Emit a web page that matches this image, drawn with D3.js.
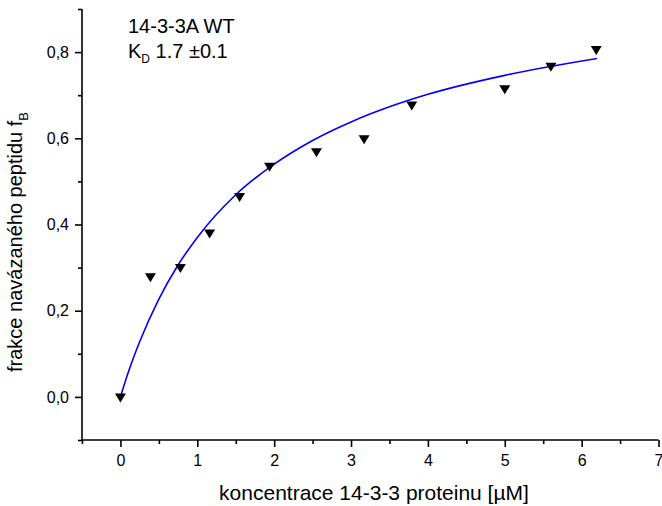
<!DOCTYPE html>
<html>
<head>
<meta charset="utf-8">
<script src="https://cdn.jsdelivr.net/npm/d3@7"></script>
<style>
  body { margin: 0; background: #fff; }
  text { font-family: "Liberation Sans", Arial, sans-serif; fill: #000; }
</style>
</head>
<body>
<div id="chart"></div>
<script>
// naměřené body (koncentrace 14-3-3 v uM, frakce navázaného peptidu)
const concX = [0, 0.39, 0.78, 1.16, 1.55, 1.94, 2.55, 3.17, 3.79, 5.0, 5.6, 6.19];
const fracB = [0, 0.279, 0.30, 0.38, 0.465, 0.535, 0.569, 0.599, 0.677, 0.715, 0.767, 0.806];

// fitovana krivka
const fitX = [0, 0.1, 0.25, 0.5, 0.75, 1, 1.5, 2, 2.5, 3, 3.5, 4, 5, 6.2];
const fitY = [0, 0.056, 0.128, 0.227, 0.306, 0.37, 0.469, 0.54, 0.595, 0.638, 0.673, 0.702, 0.746, 0.785];

const xMajor = [0, 1, 2, 3, 4, 5, 6, 7];
const xMinor = [-0.5, 0.5, 1.5, 2.5, 3.5, 4.5, 5.5, 6.5];
const yMajor = [0, 0.2, 0.4, 0.6, 0.8];
const yMinor = [-0.1, 0.1, 0.3, 0.5, 0.7, 0.9];

const W = 662, H = 506;
const svg = d3.select('#chart').append('svg')
    .attr('width', W)
    .attr('height', H);

// scale
const x = d3.scaleLinear().domain([-0.5, 7]).range([82, 658.5]);
const y = d3.scaleLinear().domain([-0.1, 0.9]).range([440, 9]);

const fmt = d => d3.format('.1f')(d).replace('.', ',');

// osa x - velke a male znacky
const gx = svg.append('g')
    .attr('transform', `translate(0,${y(-0.1)})`)
    .call(d3.axisBottom(x).tickValues(xMajor).tickSize(7).tickPadding(8).tickFormat(d3.format('d')));
svg.append('g')
    .attr('transform', `translate(0,${y(-0.1)})`)
    .call(d3.axisBottom(x).tickValues(xMinor).tickSize(4).tickFormat(''))
    .select('.domain').remove();

// osa y
const gy = svg.append('g')
    .attr('transform', `translate(${x(-0.5)},0)`)
    .call(d3.axisLeft(y).tickValues(yMajor).tickSize(7).tickPadding(6).tickFormat(fmt));
svg.append('g')
    .attr('transform', `translate(${x(-0.5)},0)`)
    .call(d3.axisLeft(y).tickValues(yMinor).tickSize(4).tickFormat(''))
    .select('.domain').remove();

svg.selectAll('.domain').attr('stroke', '#000').attr('stroke-width', 1.6);
svg.selectAll('.tick line').attr('stroke', '#000').attr('stroke-width', 1.6);
svg.selectAll('.tick text').style('font-size', '16px').attr('fill', '#000');
// bez koncovych zobacku
gx.select('.domain').attr('d', `M${x(-0.5)},0H${x(7)}`);
gy.select('.domain').attr('d', `M0,${y(-0.1)}V${y(0.9)}`);

// popisky os
svg.append('text')
    .attr('x', 374)
    .attr('y', 500)
    .attr('text-anchor', 'middle')
    .style('font-size', '21px')
    .text('koncentrace 14-3-3 proteinu [µM]');

const yl = svg.append('text')
    .attr('transform', 'translate(22,242) rotate(-90)')
    .attr('text-anchor', 'middle')
    .style('font-size', '20px');
yl.append('tspan').text('frakce navázaného peptidu f');
yl.append('tspan').attr('dy', 6).style('font-size', '13px').text('B');

// fitovana krivka
const line = d3.line()
    .x((d, i) => x(fitX[i]))
    .y(d => y(d))
    .curve(d3.curveMonotoneX);
svg.append('path')
    .datum(fitY)
    .attr('d', line)
    .attr('fill', 'none')
    .attr('stroke', '#0000ff')
    .attr('stroke-width', 1.6);

// body - trojuhelniky spickou dolu
svg.selectAll('.pt')
    .data(concX)
    .join('path')
    .attr('class', 'pt')
    .attr('transform', (d, i) => `translate(${x(d)},${y(fracB[i])})`)
    .attr('d', 'M-5.5,-3.5L5.5,-3.5L0,5.5Z')
    .attr('fill', '#000');

// anotace
svg.append('text')
    .attr('x', 128)
    .attr('y', 33)
    .style('font-size', '20px')
    .text('14-3-3A WT');
const kd = svg.append('text')
    .attr('x', 128)
    .attr('y', 58)
    .style('font-size', '20px');
kd.append('tspan').text('K');
kd.append('tspan').attr('dy', 5).style('font-size', '12px').text('D');
kd.append('tspan').attr('dy', -5).text(' 1.7 ±0.1');
</script>
</body>
</html>
